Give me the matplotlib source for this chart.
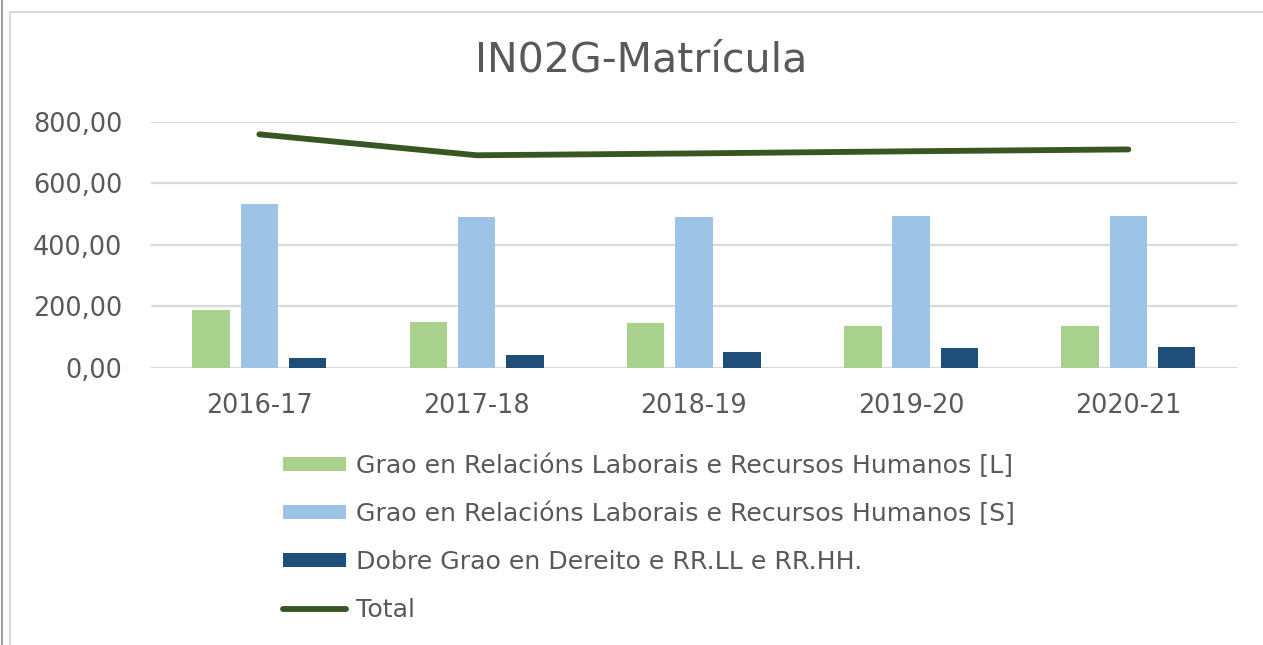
import matplotlib
matplotlib.use("Agg")
import matplotlib.pyplot as plt
import numpy as np
from matplotlib.patches import Rectangle, Patch
from matplotlib.lines import Line2D

categories = ["2016-17", "2017-18", "2018-19", "2019-20", "2020-21"]
grao_L = [188, 150, 145, 135, 135]
grao_S = [532, 490, 490, 494, 494]
dobre = [34, 42, 52, 65, 69]
total = [759, 691, 697, 704, 710]
series_names = ["Grao en Relacións Laborais e Recursos Humanos [L]",
                "Grao en Relacións Laborais e Recursos Humanos [S]",
                "Dobre Grao en Dereito e RR.LL e RR.HH.",
                "Total"]
yticks = [0, 200, 400, 600, 800]

W, H = 1263, 645
fig = plt.figure(figsize=(W/100, H/100), dpi=100)
plt.rcParams['font.family'] = ['DejaVu Sans']
txt = '#595959'
grid = '#d9d9d9'

# outer frame
fig.patches.append(Rectangle((10/W, -0.05), 1.2, 1 - 12/H + 0.05, transform=fig.transFigure,
                             fill=False, edgecolor=grid, lw=1.5))
fig.lines.append(Line2D([1.5/W, 1.5/W], [0, 1], transform=fig.transFigure, color='#a0a0a0', lw=1.5))

left, right = 150.7/W, 1237/W
bottom, top = 1 - 368/H, 1 - 121.7/H
ax = fig.add_axes([left, bottom, right-left, top-bottom])

x = np.arange(len(categories))
bw = 0.172
step = 0.222
c1, c2, c3, cl = '#a9d18e', '#9dc3e6', '#1f4e79', '#375623'
ax.bar(x - step, grao_L, bw, color=c1, zorder=3)
ax.bar(x, grao_S, bw, color=c2, zorder=3)
ax.bar(x + step, dobre, bw, color=c3, zorder=3)
ax.plot(x, total, color=cl, lw=4.2, solid_capstyle='round', zorder=4)

ax.set_xlim(-0.5, len(categories) - 0.5)
ax.set_ylim(0, 800)
ax.set_yticks(yticks)
ax.set_yticklabels([f"{v:,.2f}".replace('.', ',') for v in yticks])
ax.set_xticks(x)
ax.set_xticklabels(categories)
ax.tick_params(axis='both', length=0, labelsize=18.4, colors=txt)
ax.tick_params(axis='y', pad=20.5)
ax.tick_params(axis='x', pad=18)
ax.yaxis.grid(True, color=grid, lw=1.6, zorder=0)
for s in ax.spines.values():
    s.set_visible(False)

fig.text(641/W, 1 - 60/H, "IN02G-Matrícula", ha='center', va='center', fontsize=29.6, color=txt)

handles = [Patch(facecolor=c1), Patch(facecolor=c2), Patch(facecolor=c3),
           Line2D([0], [0], color=cl, lw=4.2, solid_capstyle='round')]
leg = fig.legend(handles, series_names, loc='upper left', bbox_to_anchor=(270/W, 1 - 441/H),
                 frameon=False, fontsize=18.2, labelcolor=txt, handlelength=2.5,
                 handleheight=0.5, handletextpad=0.42, labelspacing=0.94, borderpad=0)

fig.savefig("out.png", dpi=100, facecolor='white')
